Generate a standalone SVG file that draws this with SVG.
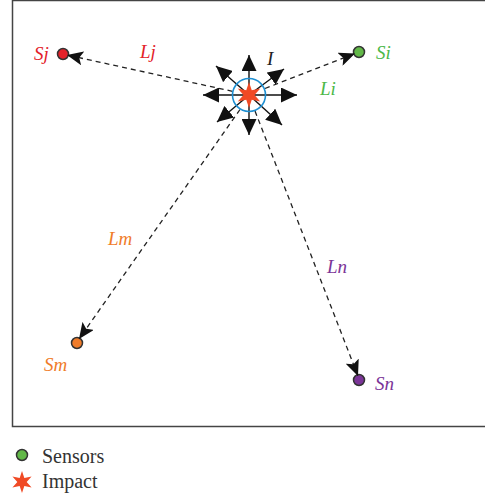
<svg xmlns="http://www.w3.org/2000/svg" width="485" height="498" viewBox="0 0 485 498">
<defs>
<style>
.lbl{font-family:"Liberation Serif","Times New Roman",serif;font-style:italic;font-size:19px}
.leg{font-family:"Liberation Serif","Times New Roman",serif;font-size:20px;fill:#333}
.dash{stroke:#222;stroke-width:1.3;stroke-dasharray:5 4;fill:none}
.ray{stroke:#111;stroke-width:1.4;fill:none}
.sensor{stroke:#333;stroke-width:1.5}
</style>
<marker id="big" markerUnits="userSpaceOnUse" markerWidth="17" markerHeight="15" refX="16" refY="7.5" orient="auto">
<path d="M0,0 L16,7.5 L0,15 z" fill="#111"/>
</marker>
<marker id="small" markerUnits="userSpaceOnUse" markerWidth="17" markerHeight="14" refX="16" refY="7" orient="auto">
<path d="M0,0 L16,7 L0,14 L3.5,7 z" fill="#111"/>
</marker>
<path id="star" d="M0,-13 L2.75,-4.76 L11.26,-6.5 L5.5,0 L11.26,6.5 L2.75,4.76 L0,13 L-2.75,4.76 L-11.26,6.5 L-5.5,0 L-11.26,-6.5 L-2.75,-4.76 z" fill="#f04a25"/>
</defs>
<rect x="12.5" y="0.5" width="480" height="426" fill="#fff" stroke="#444" stroke-width="1.5"/>

<g id="sensor-Sj"><circle class="sensor" cx="63" cy="54" r="5.5" fill="#e3222a"/><text class="lbl" x="34" y="60" fill="#e3222a">Sj</text></g>
<g id="sensor-Si"><circle class="sensor" cx="359" cy="52" r="5.5" fill="#62b848"/><text class="lbl" x="376" y="59" fill="#4cb848">Si</text></g>
<g id="sensor-Sm"><circle class="sensor" cx="77" cy="343" r="5.5" fill="#f07c2a"/><text class="lbl" x="44" y="371" fill="#f07c2a">Sm</text></g>
<g id="sensor-Sn"><circle class="sensor" cx="359" cy="380" r="5.5" fill="#7b3598"/><text class="lbl" x="375" y="390" fill="#7b3598">Sn</text></g>

<g id="connectors">
<line class="dash" x1="232.4" y1="91.3" x2="67" y2="55" marker-end="url(#small)"/>
<line class="dash" x1="265" y1="88.5" x2="355" y2="53.5" marker-end="url(#small)"/>
<line class="dash" x1="240" y1="109.5" x2="79" y2="339" marker-end="url(#small)"/>
<line class="dash" x1="255" y1="111" x2="358" y2="376" marker-end="url(#small)"/>
<text class="lbl" x="140" y="58" fill="#e3222a">Lj</text>
<text class="lbl" x="320" y="95" fill="#4cb848">Li</text>
<text class="lbl" x="108" y="245" fill="#f07c2a">Lm</text>
<text class="lbl" x="327" y="273" fill="#7b3598">Ln</text>
</g>

<g id="impact">
<line class="ray" x1="249" y1="95" x2="249" y2="55" marker-end="url(#big)"/>
<line class="ray" x1="249" y1="95" x2="249" y2="135" marker-end="url(#big)"/>
<line class="ray" x1="249" y1="95" x2="203" y2="95" marker-end="url(#big)"/>
<line class="ray" x1="249" y1="95" x2="297" y2="95" marker-end="url(#big)"/>
<line class="ray" x1="249" y1="95" x2="216" y2="66" marker-end="url(#big)"/>
<line class="ray" x1="249" y1="95" x2="284" y2="69" marker-end="url(#big)"/>
<line class="ray" x1="249" y1="95" x2="217" y2="122" marker-end="url(#big)"/>
<line class="ray" x1="249" y1="95" x2="282" y2="125" marker-end="url(#big)"/>
<circle cx="249" cy="95" r="16.5" fill="none" stroke="#1e8fd2" stroke-width="1.6"/>
<use href="#star" x="249" y="95"/>
<text class="lbl" x="267" y="65" fill="#222">I</text>
</g>

<g id="legend">
<circle class="sensor" cx="22" cy="455" r="5.5" fill="#62b848"/>
<text class="leg" x="42" y="463">Sensors</text>
<use href="#star" transform="translate(22,482) scale(0.85)"/>
<text class="leg" x="42" y="488">Impact</text>
</g>
</svg>
